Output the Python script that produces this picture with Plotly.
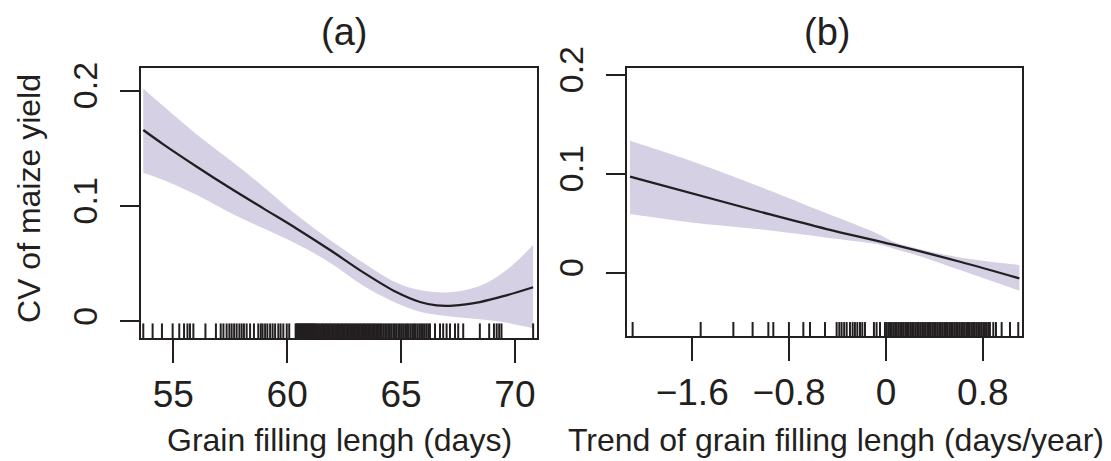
import plotly.graph_objects as go

# ---------------- data ----------------
# Panel (a): grain filling length (days)
a_x_line = [53.68, 54.56, 56.03, 57.49, 58.95, 60.42, 61.88, 63.34, 64.81, 65.83, 66.56, 67.29, 68.46, 69.63, 70.80]
a_y_line = [0.1658, 0.1534, 0.1340, 0.1155, 0.0979, 0.0803, 0.0618, 0.0424, 0.0251, 0.0167, 0.0138, 0.0136, 0.0167, 0.0225, 0.0295]
a_x_band = [53.68, 54.56, 56.03, 57.49, 58.95, 60.42, 61.88, 63.34, 64.81, 65.83, 67.0, 68.46, 69.63, 70.80]
a_upper = [0.2019, 0.1866, 0.1620, 0.1398, 0.1167, 0.0921, 0.0704, 0.0508, 0.0334, 0.0271, 0.0250, 0.0306, 0.0444, 0.0661]
a_lower = [0.1288, 0.1225, 0.1094, 0.0941, 0.0806, 0.0670, 0.0508, 0.0308, 0.0156, 0.0083, 0.0045, 0.0017, -0.0012, -0.0061]
a_rug = [53.68, 54.09, 54.50, 54.97, 55.26, 55.47, 55.62, 55.73, 55.88, 56.41, 56.87, 57.08, 57.20, 57.34,
         57.46, 57.56, 57.67, 57.78, 57.90, 58.00, 58.10, 58.22, 58.37, 58.54, 58.73, 58.84, 58.92, 59.03,
         59.13, 59.25, 59.36, 59.47, 59.61, 59.71, 59.83, 59.98, 60.09,
         60.37, 60.41, 60.45, 60.49, 60.53, 60.57, 60.61, 60.65, 60.69, 60.73, 60.77, 60.81, 60.85, 60.89,
         60.93, 60.97, 61.01, 61.05, 61.09, 61.13, 61.17, 61.21, 61.25, 61.29,
         61.35, 61.41, 61.47, 61.53, 61.58, 61.64, 61.70, 61.76, 61.82, 61.87, 61.93, 61.99, 62.05, 62.11,
         62.17, 62.23, 62.29, 62.35, 62.41, 62.47, 62.53, 62.59, 62.65, 62.71, 62.77, 62.83, 62.89, 62.95,
         63.01, 63.07, 63.13, 63.19, 63.25, 63.31, 63.37, 63.43, 63.49, 63.55, 63.61, 63.67, 63.73, 63.79,
         63.85, 63.91, 63.97, 64.03, 64.09, 64.15, 64.22,
         64.30, 64.37, 64.44, 64.51, 64.58, 64.66, 64.73, 64.80, 64.88, 64.95, 65.03, 65.10, 65.18, 65.26,
         65.33, 65.41, 65.49, 65.57, 65.64, 65.72, 65.80, 65.88, 65.96, 66.04, 66.12, 66.20, 66.27,
         66.49, 66.71, 66.85, 67.00, 67.15, 67.37, 67.51, 67.73, 68.46, 68.87, 69.08, 69.20, 69.31, 69.41,
         70.80]

# Panel (b): trend of grain filling length (days/year)
b_x_line = [-2.114, -1.040, -0.489, 0.061, 0.612, 1.102]
b_y_line = [0.0970, 0.0616, 0.0441, 0.0283, 0.0111, -0.0057]
b_x_band = [-2.114, -1.591, -1.040, -0.489, -0.077, 0.061, 0.199, 0.336, 0.612, 1.102]
b_upper = [0.1334, 0.1122, 0.0869, 0.0600, 0.0398, 0.0313, 0.0263, 0.0223, 0.0155, 0.0078]
b_lower = [0.0593, 0.0505, 0.0438, 0.0354, 0.0290, 0.0246, 0.0196, 0.0145, 0.0027, -0.0182]
b_rug = [-2.092, -1.530, -1.260, -1.101, -0.971, -0.930, -0.801, -0.682, -0.627, -0.503, -0.407, -0.385,
         -0.366, -0.345, -0.324, -0.297, -0.275, -0.256, -0.236, -0.214, -0.195, -0.173, -0.099, -0.077,
         -0.049, -0.008, 0.006, 0.020, 0.034, 0.048, 0.062, 0.076, 0.090, 0.104, 0.118, 0.132, 0.146, 0.160,
         0.174, 0.188, 0.202, 0.216, 0.230, 0.244, 0.258, 0.272, 0.286, 0.300, 0.314, 0.328, 0.342, 0.356,
         0.370, 0.384, 0.398, 0.412, 0.426, 0.440, 0.454, 0.468, 0.482, 0.496, 0.510, 0.524, 0.538, 0.552,
         0.566, 0.580, 0.594, 0.608, 0.622, 0.636, 0.650, 0.664, 0.678, 0.692, 0.706, 0.720, 0.734, 0.748,
         0.762, 0.776, 0.790, 0.804, 0.818, 0.832, 0.846, 0.859, 0.887, 0.909, 0.956, 1.025, 1.093]

# ticks
a_xticks = [55, 60, 65, 70]
a_xticktext = ["55", "60", "65", "70"]
y_ticks = [0, 0.1, 0.2]
y_ticktext = ["0", "0.1", "0.2"]
b_xticks = [-1.6, -0.8, 0, 0.8]
b_xticktext = ["\u22121.6", "\u22120.8", "0", "0.8"]

panel_titles = ["(a)", "(b)"]
x_titles = ["Grain filling lengh (days)", "Trend of grain filling lengh (days/year)"]
y_title = "CV of maize yield"

# ---------------- style ----------------
W, H = 1111, 461
INK = "#231f20"
BAND = "#d5d0e4"
FONT = "Liberation Sans, Arial, Helvetica, sans-serif"

def px_x(p):
    return p / W

def px_y(p):
    return 1 - p / H

fig = go.Figure()

# panel (a)
fig.add_trace(go.Scatter(x=a_x_band, y=a_lower, mode="lines", line=dict(width=0, shape="spline", color=BAND),
                         xaxis="x", yaxis="y", showlegend=False, hoverinfo="skip"))
fig.add_trace(go.Scatter(x=a_x_band, y=a_upper, mode="lines", line=dict(width=0, shape="spline", color=BAND),
                         fill="tonexty", fillcolor=BAND, xaxis="x", yaxis="y", showlegend=False, hoverinfo="skip"))
fig.add_trace(go.Scatter(x=a_x_line, y=a_y_line, mode="lines", line=dict(width=2.3, shape="spline", color=INK),
                         xaxis="x", yaxis="y", showlegend=False))

# panel (b)
fig.add_trace(go.Scatter(x=b_x_band, y=b_lower, mode="lines", line=dict(width=0, shape="spline", color=BAND),
                         xaxis="x2", yaxis="y2", showlegend=False, hoverinfo="skip"))
fig.add_trace(go.Scatter(x=b_x_band, y=b_upper, mode="lines", line=dict(width=0, shape="spline", color=BAND),
                         fill="tonexty", fillcolor=BAND, xaxis="x2", yaxis="y2", showlegend=False, hoverinfo="skip"))
fig.add_trace(go.Scatter(x=b_x_line, y=b_y_line, mode="lines", line=dict(width=2.3, shape="spline", color=INK),
                         xaxis="x2", yaxis="y2", showlegend=False))

shapes = []
for v in a_rug:
    shapes.append(dict(type="line", xref="x", yref="y domain", x0=v, x1=v, y0=0, y1=0.054,
                       line=dict(color=INK, width=2)))
for v in b_rug:
    shapes.append(dict(type="line", xref="x2", yref="y2 domain", x0=v, x1=v, y0=0, y1=0.052,
                       line=dict(color=INK, width=2)))

axis_common = dict(showline=True, mirror=True, linecolor=INK, linewidth=2, ticks="outside",
                   tickcolor=INK, tickwidth=2, showgrid=False, zeroline=False, automargin=False,
                   tickfont=dict(family=FONT, size=37, color=INK))
ytickfont = dict(family=FONT, size=34, color=INK)

fig.update_layout(
    width=W, height=H, autosize=False,
    margin=dict(l=0, r=0, t=0, b=0, pad=0),
    plot_bgcolor="white", paper_bgcolor="white",
    font=dict(family=FONT, color=INK),
    showlegend=False,
    xaxis=dict(domain=[px_x(141), px_x(537)], range=[53.58, 70.97], anchor="y",
               tickmode="array", tickvals=a_xticks, ticktext=a_xticktext, ticklen=23, **axis_common),
    yaxis=dict(domain=[px_y(338), px_y(68)], range=[-0.0145, 0.2196], anchor="x",
               tickmode="array", tickvals=y_ticks, ticktext=y_ticktext, ticklen=19, tickangle=-90,
               ticklabelstandoff=9, **{**axis_common, "tickfont": ytickfont}),
    xaxis2=dict(domain=[px_x(626.7), px_x(1022)], range=[-2.141, 1.124], anchor="y2",
                tickmode="array", tickvals=b_xticks, ticktext=b_xticktext, ticklen=23, **axis_common),
    yaxis2=dict(domain=[px_y(336), px_y(68)], range=[-0.0639, 0.2068], anchor="x2",
                tickmode="array", tickvals=y_ticks, ticktext=y_ticktext, ticklen=19, tickangle=-90,
                ticklabelstandoff=9, **{**axis_common, "tickfont": ytickfont}),
    shapes=shapes,
)

ann = []
ann.append(dict(text=panel_titles[0], x=px_x(344), y=px_y(32), xref="paper", yref="paper",
                xanchor="center", yanchor="middle", showarrow=False, font=dict(size=38, family=FONT, color=INK)))
ann.append(dict(text=panel_titles[1], x=px_x(826.7), y=px_y(32), xref="paper", yref="paper",
                xanchor="center", yanchor="middle", showarrow=False, font=dict(size=38, family=FONT, color=INK)))
ann.append(dict(text=x_titles[0], x=px_x(339.5), y=px_y(440), xref="paper", yref="paper",
                xanchor="center", yanchor="middle", showarrow=False, font=dict(size=32, family=FONT, color=INK)))
ann.append(dict(text=x_titles[1], x=px_x(836), y=px_y(440), xref="paper", yref="paper",
                xanchor="center", yanchor="middle", showarrow=False, font=dict(size=32, family=FONT, color=INK)))
ann.append(dict(text=y_title, x=px_x(29), y=px_y(199), xref="paper", yref="paper", textangle=-90,
                xanchor="center", yanchor="middle", showarrow=False, font=dict(size=32, family=FONT, color=INK)))
fig.update_layout(annotations=ann)

fig.write_html("out.html")
